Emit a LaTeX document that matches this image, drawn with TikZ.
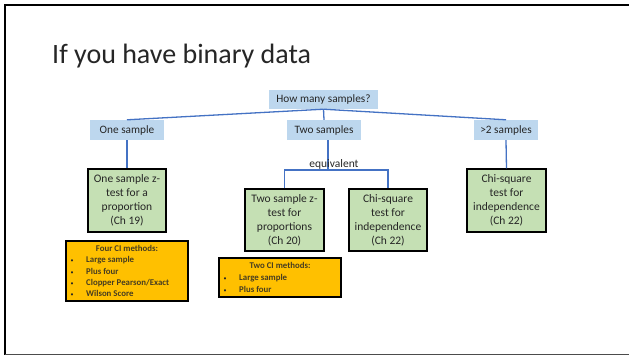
\documentclass[tikz,border=0pt]{standalone}
\usepackage{fontspec}
\setmainfont{Carlito}
\definecolor{bluebox}{HTML}{BDD7EE}
\definecolor{linkblue}{HTML}{4472C4}
\definecolor{greenbox}{HTML}{C5E0B4}
\definecolor{orangebox}{HTML}{FFC000}
\definecolor{txt}{HTML}{262626}
\begin{document}
\begin{tikzpicture}[x=1pt,y=-1pt,
  qbox/.style={fill=bluebox, text=txt, font=\fontsize{11.3}{13}\selectfont, inner sep=0pt, minimum height=20pt},
  testbox/.style={fill=greenbox, draw=black, line width=1.1pt, text=txt, align=center, font=\fontsize{11.5}{14}\selectfont, inner sep=0pt},
  cibox/.style={fill=orangebox, draw=black, line width=1.1pt, inner sep=0pt},
  citext/.style={font=\fontsize{8.8}{10}\selectfont\bfseries, text=txt!85!orangebox, inner sep=0pt},
  cibullet/.style={font=\fontsize{6}{7}\selectfont, text=txt, inner sep=0pt},
  link/.style={draw=linkblue, line width=1.3pt}]
\useasboundingbox (0,0) rectangle (629,356);
\fill[white] (0,0) rectangle (629,356);
% frame
\draw[black, line width=2.2pt] (4,5) -- (629,5);
\draw[black, line width=2pt] (5,4) -- (5,355);
\draw[black!70, line width=1pt] (5,354) -- (629,354);
% title
\node[anchor=base west, font=\fontsize{28}{30}\selectfont, text=txt, inner sep=0pt] (title) at (52,63) {If you have binary data};
% question boxes
\node[qbox, minimum width=109pt, minimum height=19pt] (hms) at (323.5,99.5) {How many samples?};
\node[qbox, minimum width=74pt] (one) at (127,130) {One sample};
\node[qbox, minimum width=74pt] (two) at (324,130) {Two samples};
\node[qbox, minimum width=64pt] (more) at (506,130) {>2 samples};
% test boxes
\node[testbox, minimum width=78pt, minimum height=63pt] (z1) at (127,200.5) {One sample z-\\test for a\\proportion\\(Ch 19)};
\node[testbox, minimum width=79pt, minimum height=62pt] (z2) at (284.5,220) {Two sample z-\\test for\\proportions\\(Ch 20)};
\node[testbox, minimum width=78pt, minimum height=62pt] (chi2) at (388,220) {Chi-square\\test for\\independence\\(Ch 22)};
\node[testbox, minimum width=79pt, minimum height=63pt] (chim) at (506.5,200.5) {Chi-square\\test for\\independence\\(Ch 22)};
% connectors
\draw[link] (hms.south) -- (one.north);
\draw[link] (hms.south) -- (two.north);
\draw[link] (hms.south) -- (more.north);
\draw[link] (one.south) -- (z1.north);
\draw[link] (more.south) -- (chim.north);
\coordinate (eq) at (328,170);
\draw[link] (two.south -| eq) -- (eq);
\draw[link] (z2.north) |- (eq) -| (chi2.north);
\node[font=\fontsize{11.5}{13}\selectfont, text=txt, anchor=base, inner sep=0pt] (eqlabel) at (334,167) {equivalent};
% CI boxes
\node[cibox, minimum width=122pt, minimum height=60pt] (ci1) at (127,271) {};
\node[citext, anchor=base] (ci1t) at (127,251) {Four CI methods:};
\foreach \t/\yy [count=\i] in {{Large sample}/262, {Plus four}/274, {Clopper Pearson/Exact}/285, {Wilson Score}/296}{
  \node[cibullet, anchor=base] (ci1b\i) at (72,\yy) {\textbullet};
  \node[citext, anchor=base west] (ci1i\i) at (86,\yy) {\t};
}
\node[cibox, minimum width=122pt, minimum height=39pt] (ci2) at (280,277.5) {};
\node[citext, anchor=base] (ci2t) at (280,268) {Two CI methods:};
\foreach \t/\yy [count=\i] in {{Large sample}/280, {Plus four}/292}{
  \node[cibullet, anchor=base] (ci2b\i) at (225,\yy) {\textbullet};
  \node[citext, anchor=base west] (ci2i\i) at (239,\yy) {\t};
}
\end{tikzpicture}
\end{document}
